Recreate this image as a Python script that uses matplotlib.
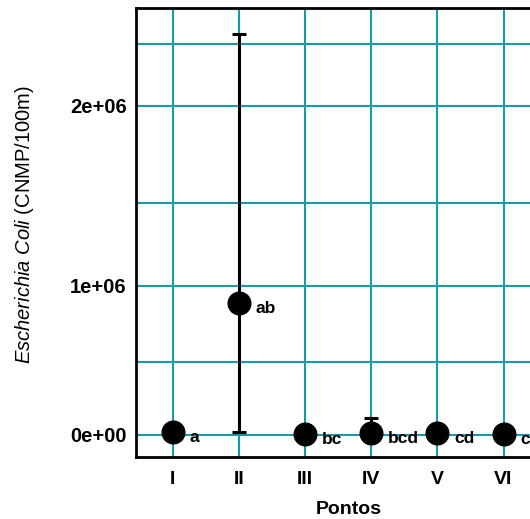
import numpy as np
import matplotlib
matplotlib.use("Agg")
import matplotlib.pyplot as plt
from matplotlib.ticker import FixedLocator, FuncFormatter

plt.rcParams["font.family"] = ["Liberation Sans", "DejaVu Sans"]
plt.rcParams["mathtext.fontset"] = "custom"
plt.rcParams["mathtext.it"] = "Liberation Sans:italic"
plt.rcParams["mathtext.rm"] = "Liberation Sans"

# Dados (media e limites do erro por ponto)
pontos = ["I", "II", "III", "IV", "V", "VI"]
media = [2.0e4, 8.9e5, 7.0e3, 1.5e4, 1.2e4, 9.0e3]
lim_inf = [2.0e4, 1.8e4, 7.0e3, 0.0, 1.2e4, 9.0e3]
lim_sup = [2.0e4, 2.58e6, 7.0e3, 1.18e5, 1.2e4, 9.0e3]
grupos = ["a", "ab", "bc", "bcd", "cd", "cd"]

# eixo y esticado como no original (valor -> altura relativa)
escala_v = [-1e6, 0, 5e5, 1e6, 1.5e6, 2e6, 2.5e6, 4e6]
escala_h = [-146, 0, 73, 149, 232, 329, 391, 577]


def fwd(v):
    return np.interp(v, escala_v, escala_h)


def inv(h):
    return np.interp(h, escala_h, escala_v)


fig = plt.figure(figsize=(5.30, 5.19), dpi=100)
ax = fig.add_axes([135.7 / 530, 62 / 519, 426.6 / 530, 449 / 519])
ax.set_yscale("function", functions=(fwd, inv))

x = np.arange(1, len(pontos) + 1)
m = np.array(media)
err = [m - np.array(lim_inf), np.array(lim_sup) - m]
ax.errorbar(x, media, yerr=err, fmt="none", ecolor="black", elinewidth=2.2,
            capsize=5, capthick=2.2, zorder=3)
ax.scatter(x, media, s=16.3 ** 2, color="black", zorder=4)

for xi, yi, g in zip(x, media, grupos):
    ax.annotate(g, (xi, yi), xytext=(12, -4), textcoords="offset points",
                ha="left", va="center", fontsize=12.5, fontweight="bold")

ax.set_xlim(0.442, 6.888)
ax.set_ylim(-1.507e5, 2.79e6)

ax.set_xticks(x, pontos)
ax.yaxis.set_major_locator(FixedLocator([0, 1e6, 2e6]))
ax.yaxis.set_minor_locator(FixedLocator([5e5, 1.5e6, 2.5e6]))
ax.yaxis.set_major_formatter(FuncFormatter(lambda v, p: f"{v:.0e}"))

ax.tick_params(which="both", length=0)
ax.tick_params(axis="x", pad=10, labelsize=14)
ax.tick_params(axis="y", pad=6.5, labelsize=14.5)
for lab in ax.get_xticklabels() + ax.get_yticklabels():
    lab.set_fontweight("bold")

ax.grid(which="both", color="#1a9aa5", linewidth=1.5)
ax.set_axisbelow(True)
for s in ax.spines.values():
    s.set_linewidth(2)

ax.set_xlabel("Pontos", fontsize=14, fontweight="bold", labelpad=9.5)
ax.set_ylabel(r"$\it{Escherichia\ Coli}$ (CNMP/100m)", fontsize=14.5)
ax.yaxis.set_label_coords(-0.234, 0.518)

fig.savefig("out.png", dpi=100)
